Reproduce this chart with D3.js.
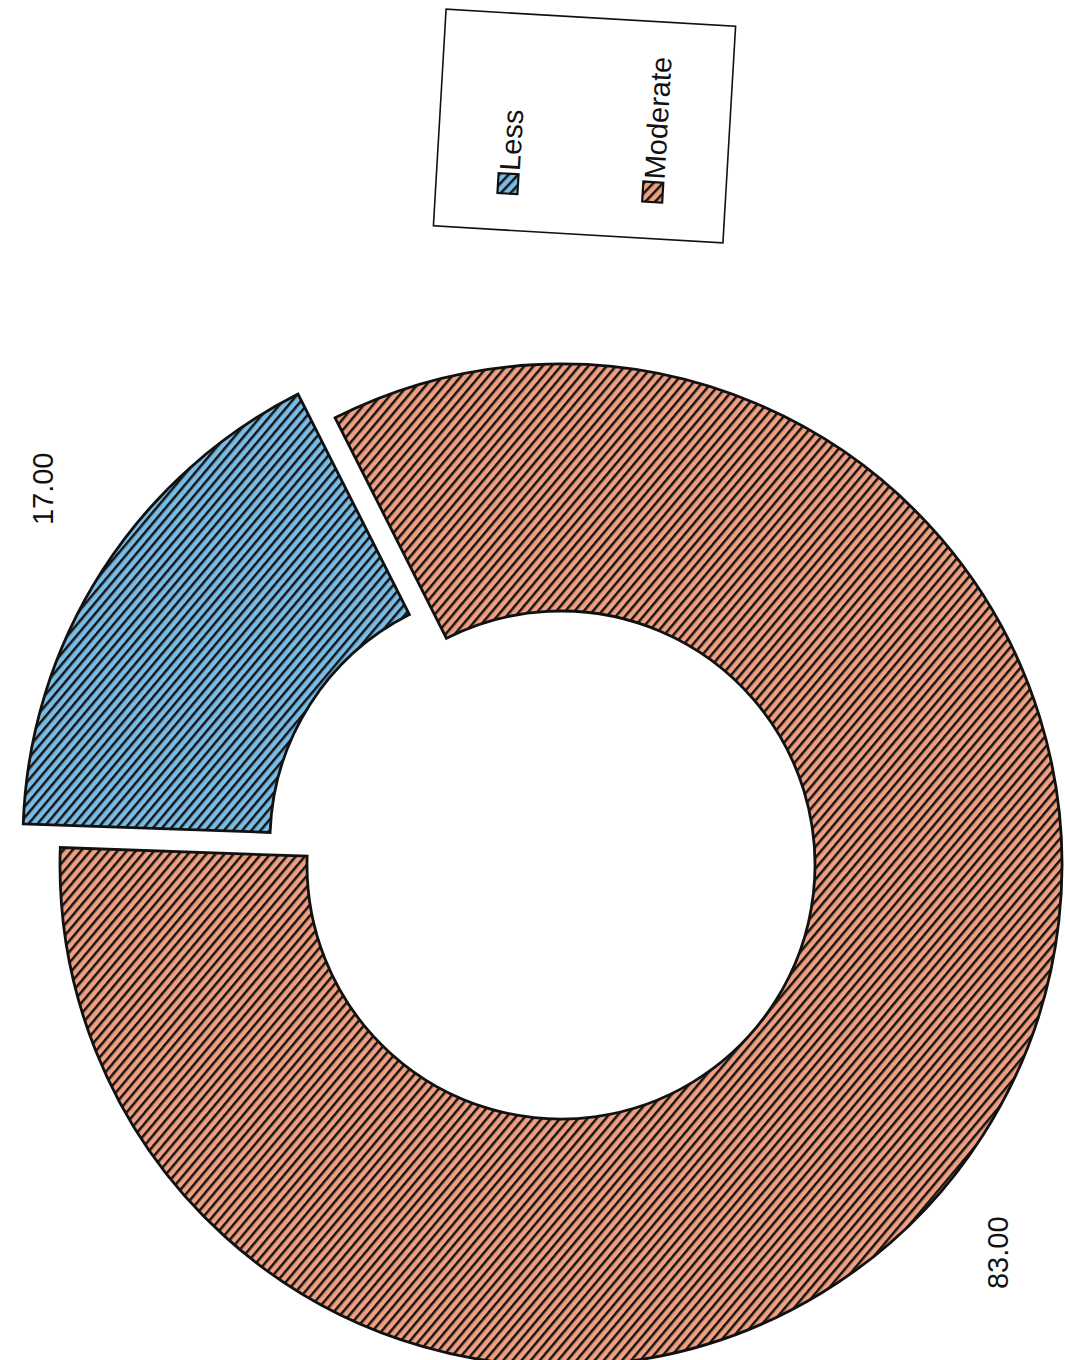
<!DOCTYPE html>
<html>
<head>
<meta charset="utf-8">
<script src="https://cdn.jsdelivr.net/npm/d3@7"></script>
<style>
  html, body { margin: 0; padding: 0; background: #ffffff; }
  svg { display: block; }
  text { font-family: "Liberation Sans", Arial, sans-serif; fill: #111; }
</style>
</head>
<body>
<svg id="chart" width="1065" height="1360"></svg>
<script>
// ---- data ----
const categories = ["Less", "Moderate"];
const values = [17, 83];
const valueLabels = ["17.00", "83.00"];
const colors = ["#78bce6", "#ef9f7f"];

// ---- layout constants ----
const W = 1065, H = 1360;
const cx = 561, cy = 865;
const outerR = 501, innerR = 254;
const startDeg = -88;            // the scanned chart is turned a quarter turn
const explodeIdx = 0, explodeDist = 44;
const labelLayout = [{ dAngle: 3.4, r: 640 }, { dAngle: 9.0, r: 584 }];
const fontSize = 29;

const svg = d3.select("#chart");
svg.append("rect").attr("width", W).attr("height", H).attr("fill", "#fff");

// hatch patterns
const defs = svg.append("defs");
categories.forEach((c, i) => {
  const p = defs.append("pattern")
    .attr("id", "hatch" + i)
    .attr("patternUnits", "userSpaceOnUse")
    .attr("width", 7).attr("height", 7)
    .attr("patternTransform", "rotate(-50)");
  p.append("rect").attr("width", 7).attr("height", 7).attr("fill", colors[i]);
  p.append("rect").attr("x", 0).attr("y", 0).attr("width", 7).attr("height", 2.5).attr("fill", "#141414");
});

const rad = d => d * Math.PI / 180;
const pie = d3.pie().sort(null)
  .startAngle(rad(startDeg)).endAngle(rad(startDeg) + 2 * Math.PI);
const arcs = pie(values);
const arc = d3.arc().innerRadius(innerR).outerRadius(outerR);

const g = svg.append("g").attr("transform", `translate(${cx},${cy})`);
g.selectAll("path.slice").data(arcs).enter().append("path")
  .attr("class", "slice")
  .attr("d", arc)
  .attr("fill", (d, i) => `url(#hatch${i})`)
  .attr("stroke", "#111").attr("stroke-width", 2.8).attr("stroke-linejoin", "miter")
  .attr("transform", (d, i) => {
    if (i !== explodeIdx) return null;
    const a = (d.startAngle + d.endAngle) / 2;
    return `translate(${explodeDist * Math.sin(a)},${-explodeDist * Math.cos(a)})`;
  });

// value labels
g.selectAll("text.val").data(arcs).enter().append("text")
  .attr("class", "val")
  .attr("transform", (d, i) => {
    const a = (d.startAngle + d.endAngle) / 2 + rad(labelLayout[i].dAngle);
    const r = labelLayout[i].r;
    return `translate(${r * Math.sin(a)},${-r * Math.cos(a)}) rotate(-90)`;
  })
  .attr("text-anchor", "middle")
  .attr("dominant-baseline", "central")
  .attr("font-size", fontSize)
  .text((d, i) => valueLabels[i]);

// legend (slightly tilted as in the scan)
const lg = svg.append("g").attr("transform", "translate(584.5,126) rotate(3.35)");
lg.append("rect").attr("x", -145).attr("y", -108.5).attr("width", 290).attr("height", 217)
  .attr("fill", "#fff").attr("stroke", "#111").attr("stroke-width", 1.6);
const legX = d3.scalePoint().domain(categories).range([-73, 72]);
const items = lg.selectAll("g.item").data(categories).enter().append("g")
  .attr("class", "item")
  .attr("transform", d => `translate(${legX(d)},62)`);
items.append("rect").attr("x", -10).attr("y", -10).attr("width", 20).attr("height", 20)
  .attr("fill", (d, i) => `url(#hatch${i})`).attr("stroke", "#111").attr("stroke-width", 2.2);
items.append("text")
  .attr("transform", "translate(11,-13) rotate(-90)")
  .attr("text-anchor", "start")
  .attr("font-size", fontSize)
  .text(d => d);
</script>
</body>
</html>
